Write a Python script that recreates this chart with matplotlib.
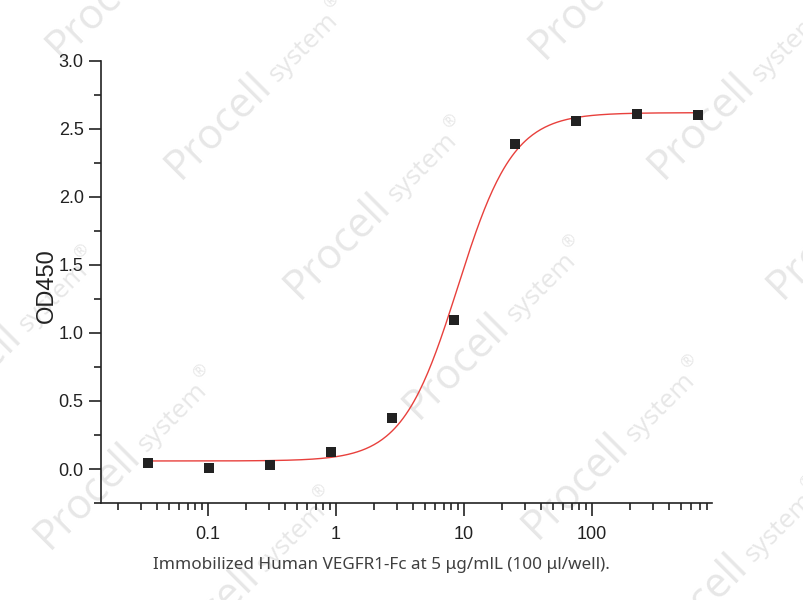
import numpy as np
import matplotlib.pyplot as plt
from matplotlib.ticker import LogLocator, NullFormatter

# concentration (ug/ml, 3-fold dilution) and OD450 readings
conc = [0.0343, 0.103, 0.309, 0.926, 2.78, 8.33, 25.0, 75.0, 225.0, 675.0]
od450 = [0.042, 0.005, 0.03, 0.127, 0.373, 1.095, 2.388, 2.557, 2.606, 2.601]

# 4PL fit parameters
fit_bottom = 0.059
fit_top = 2.618
fit_ec50 = 9.0
fit_hill = 2.0

x_ticks = [0.1, 1, 10, 100]
x_ticklabels = ['0.1', '1', '10', '100']
y_ticks = [0.0, 0.5, 1.0, 1.5, 2.0, 2.5, 3.0]

caption = 'Immobilized Human VEGFR1-Fc at 5 \u03bcg/mlL (100 \u03bcl/well).'

# watermark "Procell system (R)" start points (pixels, y down)
wm_x = [61, 180, 299, 418, 537, 656, 544, 663, 782, -70, 49, 168]
wm_y = [60, 180, 300, 420, 540, 660, 60, 180, 300, 430, 550, 670]

plt.rcParams['font.family'] = ['Liberation Sans', 'DejaVu Sans']

W, H = 804, 600
fig = plt.figure(figsize=(W / 100, H / 100), dpi=100)

# faint watermark behind everything
ang = 45
u = np.array([np.cos(np.radians(ang)), np.sin(np.radians(ang))])
v = np.array([-u[1], u[0]])
wm_color = '#e7e7e7'
wm_font = ['Open Sans', 'DejaVu Sans']


def wm_text(p, along, up, s, size):
    q = p + along * u + up * v
    fig.text(q[0] / W, q[1] / H, s, fontsize=size, color=wm_color,
             rotation=ang, rotation_mode='anchor', ha='left', va='baseline',
             family=wm_font, zorder=-1)


for px, py in zip(wm_x, wm_y):
    p = np.array([px, H - py])
    wm_text(p, 0, 0, 'Procell', 30)
    wm_text(p, 138, 0, 'system', 19)
    wm_text(p, 226, 14, '\u00ae', 12)

ax = fig.add_axes([101 / W, 1 - 503.3 / H, 611 / W, 442.6 / H])
ax.patch.set_alpha(0)

xs = np.logspace(np.log10(0.0343), np.log10(675), 400)
ys = fit_bottom + (fit_top - fit_bottom) / (1 + (fit_ec50 / xs) ** fit_hill)
ax.plot(xs, ys, color='#e8403c', lw=1.0, zorder=2)
ax.scatter(conc, od450, marker='s', s=62, color='#222222', zorder=3,
           linewidths=0, clip_on=False)

ax.set_xscale('log')
ax.set_xlim(0.0147, 870)
ax.set_ylim(-0.252, 3.0)
ax.set_xticks(x_ticks)
ax.set_xticklabels(x_ticklabels)
ax.set_yticks(y_ticks)
ax.set_yticks(np.arange(-0.25, 3.0, 0.5), minor=True)
ax.xaxis.set_minor_locator(LogLocator(base=10, subs=np.arange(2, 10)))
ax.xaxis.set_minor_formatter(NullFormatter())

for s in ['top', 'right']:
    ax.spines[s].set_visible(False)
for s in ['left', 'bottom']:
    ax.spines[s].set_linewidth(1.2)
    ax.spines[s].set_color('#222222')

ax.tick_params(which='major', direction='out', length=9, width=1.2,
               color='#222222', labelsize=13, labelcolor='#222222')
ax.tick_params(which='minor', direction='out', length=5, width=1.2,
               color='#222222')
ax.tick_params(axis='x', which='major', pad=7)

ax.set_ylabel('OD450', fontsize=17, color='#222222', va='center')
ax.yaxis.set_label_coords(-0.088, 0.491)

fig.text(381 / W, 1 - 565 / H, caption, fontsize=12.3, color='#404040',
         ha='center', va='center', family=['Noto Sans', 'DejaVu Sans'])

fig.savefig('out.png', dpi=100)
